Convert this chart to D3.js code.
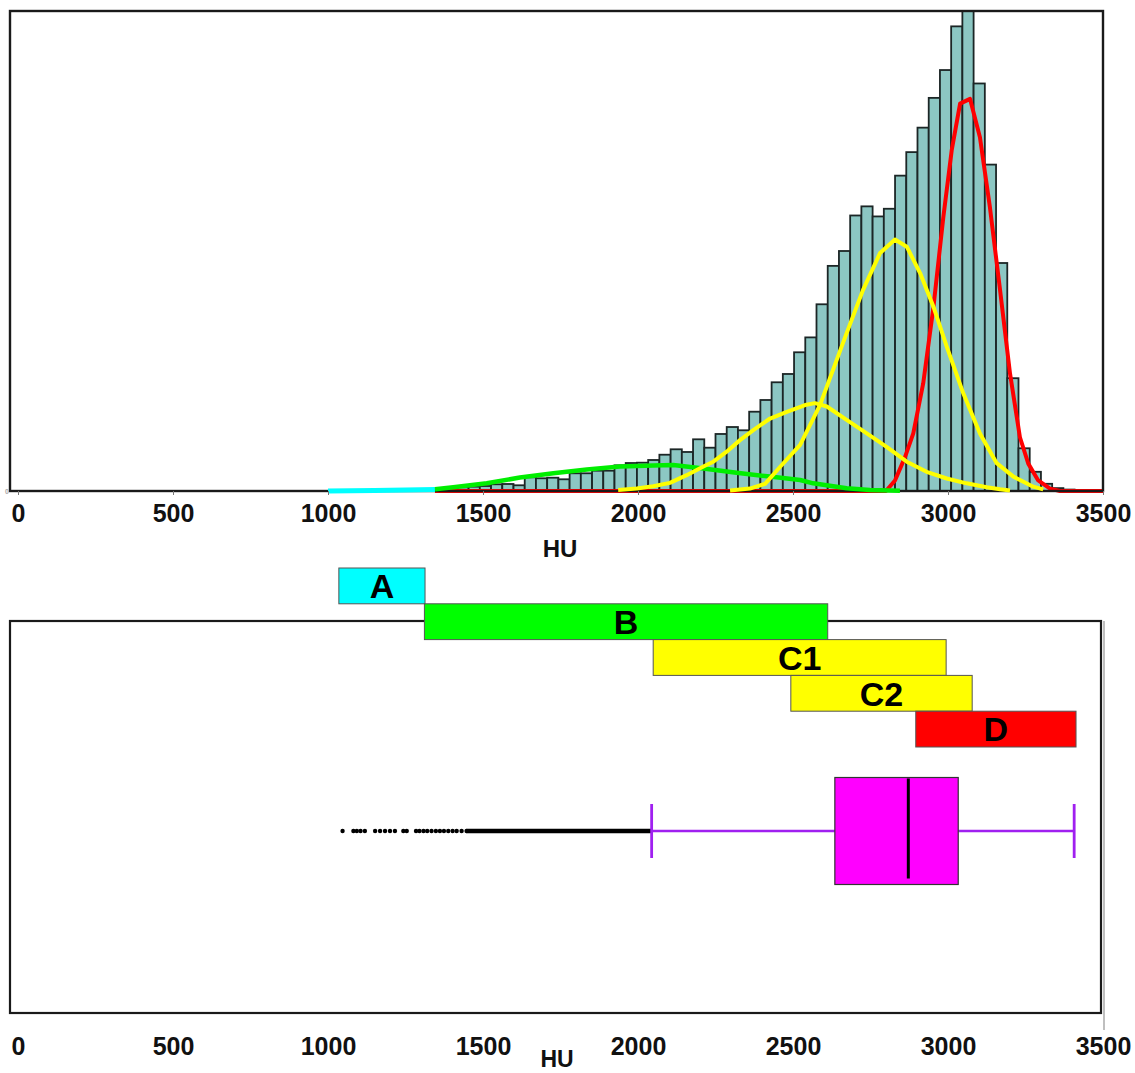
<!DOCTYPE html>
<html>
<head>
<meta charset="utf-8">
<script src="https://cdn.jsdelivr.net/npm/d3@7"></script>
<style>
    body { margin: 0; background: #fff; }
    svg text { font-family: "Liberation Sans", Arial, sans-serif; font-weight: bold; }
</style>
</head>
<body>
<svg id="chart" width="1135" height="1073"></svg>
<script>
// HU axis ticks (both panels)
const huTicks = [0, 500, 1000, 1500, 2000, 2500, 3000, 3500];

// histogram: first bin edge (HU), bin width (HU), relative counts (0-100 of frame height)
const binStart = 1345;
const binWidth = 36.2;
const counts = [0.35, 0.48, 0.77, 0.9, 1.04, 1.4, 1.46, 1.19, 2.85, 2.65,
    2.77, 2.44, 3.69, 3.69, 4.23, 4.23, 5.35, 5.83, 5.9, 6.46,
    7.56, 8.69, 8.13, 10.77, 9.02, 11.88, 13.33, 12.65, 16.52, 18.96,
    22.65, 24.38, 28.9, 32.0, 38.9, 46.9, 50.0, 57.4, 59.3, 57.2,
    58.8, 65.7, 70.6, 75.7, 81.9, 87.7, 96.8, 100, 84.9, 68.0,
    47.5, 23.5, 8.9, 4.0, 1.5, 0.6, 0.3];

// fitted components, [HU, value]
const curveA = [[1000, 0], [1150, 0.1], [1250, 0.2], [1345, 0.3]];
const curveB = [[1345, 0.35], [1404, 0.77], [1512, 1.6], [1619, 2.8], [1727, 3.7], [1835, 4.5],
    [1942, 5.1], [2049, 5.3], [2114, 5.4], [2211, 4.7], [2318, 3.8], [2426, 3.0], [2523, 2.3],
    [2565, 1.6], [2673, 0.56], [2748, 0.2], [2845, 0.06]];
const curveC1 = [[1936, 0.2], [1996, 0.5], [2049, 1.0], [2103, 1.7], [2157, 3.3], [2211, 5.1],
    [2243, 6.1], [2286, 8.2], [2329, 10.6], [2372, 12.7], [2426, 15.1], [2480, 16.5], [2539, 17.9],
    [2571, 18.3], [2609, 17.6], [2673, 14.8], [2738, 12.0], [2802, 9.2], [2867, 6.1], [2931, 4.0],
    [2996, 2.6], [3060, 1.6], [3125, 0.77], [3168, 0.35], [3200, 0.1]];
const curveC2 = [[2297, 0.1], [2361, 0.5], [2410, 1.5], [2458, 5.0], [2523, 9.6], [2587, 17.9],
    [2673, 32.9], [2726, 41.9], [2781, 49.6], [2829, 52.4], [2867, 50.9], [2910, 45.4], [2953, 38.4],
    [2996, 30.1], [3049, 20.4], [3103, 12.0], [3157, 5.8], [3211, 3.0], [3275, 0.9], [3307, 0.35]];
const curveD = [[1345, 0], [2800, 0], [2829, 2.2], [2861, 7.0], [2888, 12.0], [2920, 22.4],
    [2953, 38.3], [2985, 57.1], [3012, 71.0], [3039, 80.7], [3071, 81.7], [3103, 73.7], [3135, 59.2],
    [3168, 41.8], [3200, 24.5], [3232, 11.2], [3259, 5.7], [3291, 2.2], [3329, 0.5], [3361, 0], [3500, 0]];

// class ranges (HU)
const rangeNames = ["A", "B", "C1", "C2", "D"];
const rangeStart = [1035, 1311, 2049, 2493, 2896];
const rangeEnd = [1313, 2612, 2994, 3078, 3413];
const rangeColors = ["#00ffff", "#00ff00", "#ffff00", "#ffff00", "#ff0000"];

// box plot (HU)
const whiskerLow = 2044;
const q1 = 2635;
const median = 2872;
const q3 = 3033;
const whiskerHigh = 3407;
const outliers = [1047, 1082, 1093, 1105, 1119, 1152, 1168, 1184, 1200, 1216, 1243, 1254,
    1284, 1295, 1308, 1320, 1334, 1348, 1361, 1374, 1388, 1402, 1415, 1431, 1447];
const denseOutliers = [1447, 2044];

const svg = d3.select("#chart");
const xScale = d3.scaleLinear().domain([0, 3500]).range([18, 1103]);

const drawHistogram = ()=>{
    let frame = {left: 10, right: 1103, top: 11, bottom: 491};
    let yScale = d3.scaleLinear().domain([0, 100]).range([frame.bottom, frame.top]);
    let g = svg.append("g");

    let line = d3.line()
        .x((d)=>xScale(d[0]))
        .y((d)=>yScale(d[1]));

    g.selectAll("rect.bin")
        .data(counts)
        .enter().append("rect")
        .attr("class", "bin")
        .attr("x", (d, i)=>xScale(binStart + i * binWidth))
        .attr("width", (d, i)=>xScale(binStart + (i + 1) * binWidth) - xScale(binStart + i * binWidth))
        .attr("y", (d)=>yScale(d))
        .attr("height", (d)=>yScale(0) - yScale(d))
        .attr("fill", "#8cc7c3")
        .attr("stroke", "#1c2626")
        .attr("stroke-width", 1.8);

    g.append("path")
        .datum(curveD)
        .attr("d", line)
        .attr("fill", "none")
        .attr("stroke", "#ff0000")
        .attr("stroke-width", 4)
        .attr("stroke-linejoin", "round");

    g.append("rect")
        .attr("x", frame.left)
        .attr("y", frame.top)
        .attr("width", frame.right - frame.left)
        .attr("height", frame.bottom - frame.top)
        .attr("fill", "none")
        .attr("stroke", "#1a1a1a")
        .attr("stroke-width", 2.4);

    let comps = [
        {data: curveA, color: "#00ffff", w: 5},
        {data: curveB, color: "#00ee00", w: 4.5},
        {data: curveC1, color: "#ffff00", w: 4},
        {data: curveC2, color: "#ffff00", w: 4}
    ];
    comps.forEach((c)=>{
        g.append("path")
            .datum(c.data)
            .attr("d", line)
            .attr("fill", "none")
            .attr("stroke", c.color)
            .attr("stroke-width", c.w)
            .attr("stroke-linejoin", "round");
    });

    let xAxis = d3.axisBottom(xScale).tickValues(huTicks).tickSize(4).tickPadding(9).tickFormat(d3.format("d"));
    let ax = g.append("g")
        .attr("transform", "translate(0," + frame.bottom + ")")
        .call(xAxis);
    ax.select(".domain").remove();
    ax.selectAll("line").attr("stroke", "#777");
    ax.selectAll("text").attr("font-size", 25).attr("fill", "#111");

    let yAxis = d3.axisLeft(yScale).tickValues([0]).tickSize(0).tickPadding(1);
    let ay = g.append("g")
        .attr("transform", "translate(" + frame.left + ",0)")
        .call(yAxis);
    ay.select(".domain").remove();
    ay.selectAll("text").attr("font-size", 7).attr("fill", "#aaa").attr("font-weight", "normal");

    g.append("text")
        .attr("x", 560)
        .attr("y", 557)
        .attr("text-anchor", "middle")
        .attr("font-size", 24)
        .attr("fill", "#111")
        .text("HU");
}

const drawRanges = ()=>{
    let frame = {left: 10, right: 1101, top: 621, bottom: 1013};
    let g = svg.append("g");

    g.append("line")
        .attr("x1", frame.right + 3).attr("x2", frame.right + 3)
        .attr("y1", frame.top).attr("y2", 1030)
        .attr("stroke", "#aaa").attr("stroke-width", 1.5);

    g.append("rect")
        .attr("x", frame.left)
        .attr("y", frame.top)
        .attr("width", frame.right - frame.left)
        .attr("height", frame.bottom - frame.top)
        .attr("fill", "none")
        .attr("stroke", "#1a1a1a")
        .attr("stroke-width", 2.2);

    let yBand = d3.scaleBand().domain(rangeNames).range([568, 747]);
    let rows = rangeNames.map((name, i)=>({name: name, start: rangeStart[i], end: rangeEnd[i], color: rangeColors[i]}));

    g.selectAll("rect.range")
        .data(rows)
        .enter().append("rect")
        .attr("class", "range")
        .attr("x", (d)=>xScale(d.start))
        .attr("width", (d)=>xScale(d.end) - xScale(d.start))
        .attr("y", (d)=>yBand(d.name))
        .attr("height", yBand.bandwidth())
        .attr("fill", (d)=>d.color)
        .attr("stroke", "#555")
        .attr("stroke-width", 1);

    g.selectAll("text.range")
        .data(rows)
        .enter().append("text")
        .attr("class", "range")
        .attr("x", (d)=>(xScale(d.start) + xScale(d.end)) / 2)
        .attr("y", (d)=>yBand(d.name) + yBand.bandwidth() / 2)
        .attr("dy", "0.36em")
        .attr("text-anchor", "middle")
        .attr("font-size", 34)
        .attr("fill", "#000")
        .text((d)=>d.name);

    // box plot
    let cy = 831;
    let boxH = 107;
    let capH = 54;
    let purple = "#a020f0";

    g.append("line")
        .attr("x1", xScale(denseOutliers[0])).attr("x2", xScale(denseOutliers[1]))
        .attr("y1", cy).attr("y2", cy)
        .attr("stroke", "#000").attr("stroke-width", 4.5);

    g.selectAll("circle.out")
        .data(outliers)
        .enter().append("circle")
        .attr("class", "out")
        .attr("cx", (d)=>xScale(d))
        .attr("cy", cy)
        .attr("r", 2.2)
        .attr("fill", "#000");

    [[whiskerLow, q1], [q3, whiskerHigh]].forEach((seg)=>{
        g.append("line")
            .attr("x1", xScale(seg[0])).attr("x2", xScale(seg[1]))
            .attr("y1", cy).attr("y2", cy)
            .attr("stroke", purple).attr("stroke-width", 2.4);
    });
    [whiskerLow, whiskerHigh].forEach((v)=>{
        g.append("line")
            .attr("x1", xScale(v)).attr("x2", xScale(v))
            .attr("y1", cy - capH / 2).attr("y2", cy + capH / 2)
            .attr("stroke", purple).attr("stroke-width", 2.8);
    });

    g.append("rect")
        .attr("x", xScale(q1))
        .attr("width", xScale(q3) - xScale(q1))
        .attr("y", cy - boxH / 2)
        .attr("height", boxH)
        .attr("fill", "#ff00ff")
        .attr("stroke", "#333")
        .attr("stroke-width", 1.2);

    g.append("line")
        .attr("x1", xScale(median)).attr("x2", xScale(median))
        .attr("y1", cy - boxH / 2 + 1).attr("y2", cy + boxH / 2 - 6)
        .attr("stroke", "#000").attr("stroke-width", 3);

    let xAxis = d3.axisBottom(xScale).tickValues(huTicks).tickSize(0).tickPadding(24).tickFormat(d3.format("d"));
    let ax = g.append("g")
        .attr("transform", "translate(0," + frame.bottom + ")")
        .call(xAxis);
    ax.select(".domain").remove();
    ax.selectAll("text").attr("font-size", 25).attr("fill", "#111");

    g.append("text")
        .attr("x", 557)
        .attr("y", 1067)
        .attr("text-anchor", "middle")
        .attr("font-size", 23)
        .attr("fill", "#111")
        .text("HU");
}

window.onload = function(){
    drawHistogram();
    drawRanges();
}
</script>
</body>
</html>
